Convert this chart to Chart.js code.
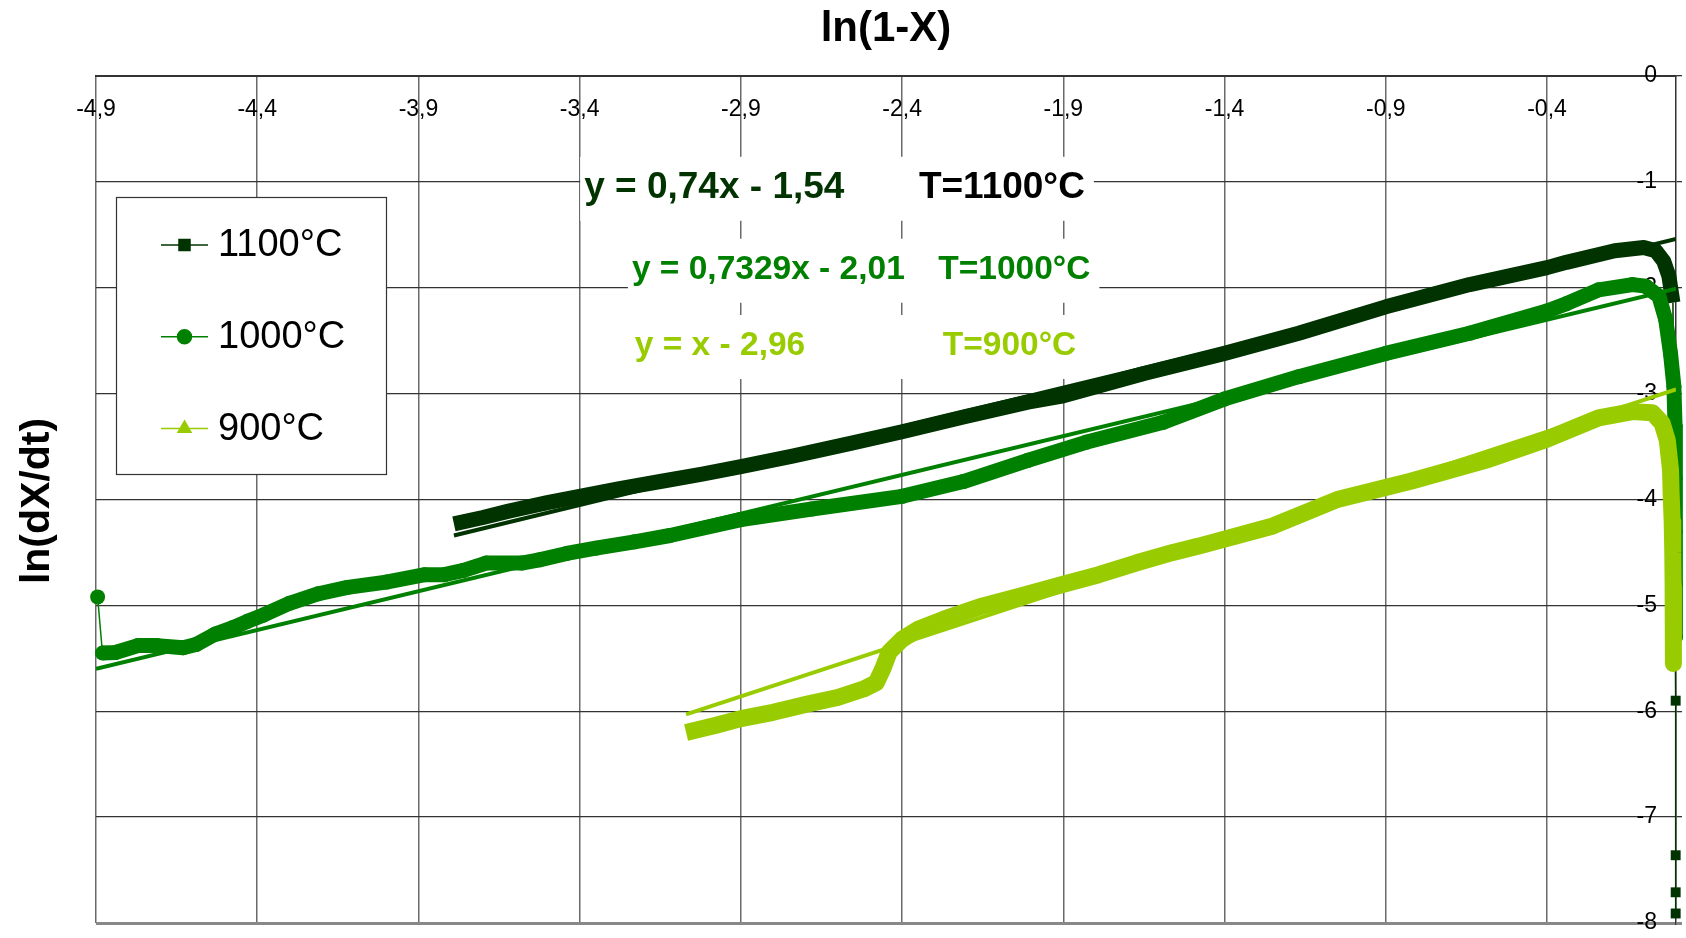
<!DOCTYPE html>
<html>
<head>
<meta charset="utf-8">
<script src="https://cdn.jsdelivr.net/npm/chart.js@4.4.0/dist/chart.umd.min.js"></script>
<style>
  html, body { margin: 0; padding: 0; background: #fff; }
  #wrap { width: 1686px; height: 938px; }
</style>
</head>
<body>
<div id="wrap"><canvas id="kinetics" width="1686" height="938"></canvas></div>
<script>
// ln(1-X) vs ln(dX/dt)
const xTicks = [-4.9, -4.4, -3.9, -3.4, -2.9, -2.4, -1.9, -1.4, -0.9, -0.4];

const x1100 = [-3.79, -3.70, -3.62, -3.50, -3.40, -3.28, -3.15, -3.02, -2.90, -2.74, -2.56, -2.40, -2.21, -2.01, -1.90, -1.65, -1.40, -1.17, -0.90, -0.64, -0.40, -0.34, -0.19, -0.10, -0.063, -0.038, -0.022, -0.014, -0.0095, -0.001, -0.001, -0.001, -0.001];
const y1100 = [-4.23, -4.17, -4.11, -4.03, -3.97, -3.90, -3.83, -3.76, -3.69, -3.59, -3.47, -3.36, -3.22, -3.08, -3.02, -2.81, -2.62, -2.43, -2.18, -1.97, -1.81, -1.76, -1.65, -1.62, -1.65, -1.75, -1.89, -2.05, -2.14, -5.90, -7.36, -7.71, -7.91];

const x1000 = [-4.895, -4.88, -4.84, -4.77, -4.71, -4.63, -4.59, -4.53, -4.475, -4.43, -4.38, -4.30, -4.21, -4.12, -4.00, -3.88, -3.82, -3.76, -3.69, -3.58, -3.525, -3.44, -3.35, -3.23, -3.12, -2.90, -2.68, -2.40, -2.21, -2.01, -1.83, -1.59, -1.40, -1.17, -0.90, -0.64, -0.40, -0.34, -0.24, -0.135, -0.094, -0.053, -0.032, -0.017, -0.0065, -0.003, -0.002, -0.002, -0.002, -0.002];
const y1000 = [-4.92, -5.45, -5.445, -5.38, -5.38, -5.40, -5.37, -5.27, -5.21, -5.15, -5.09, -4.98, -4.89, -4.83, -4.78, -4.71, -4.71, -4.67, -4.60, -4.60, -4.57, -4.51, -4.46, -4.40, -4.34, -4.19, -4.09, -3.97, -3.83, -3.63, -3.46, -3.27, -3.05, -2.84, -2.62, -2.43, -2.22, -2.15, -2.02, -1.97, -1.985, -2.08, -2.30, -2.62, -2.93, -3.30, -3.80, -4.30, -4.80, -5.30];

const x900 = [-3.07, -2.98, -2.90, -2.80, -2.69, -2.60, -2.52, -2.48, -2.46, -2.44, -2.40, -2.35, -2.27, -2.15, -2.03, -1.90, -1.79, -1.675, -1.56, -1.48, -1.25, -1.05, -0.82, -0.58, -0.40, -0.24, -0.135, -0.073, -0.043, -0.027, -0.017, -0.015, -0.012, -0.010, -0.009, -0.008, -0.008, -0.008];
const y900 = [-6.20, -6.135, -6.07, -6.01, -5.93, -5.87, -5.79, -5.73, -5.60, -5.44, -5.32, -5.225, -5.13, -5.005, -4.91, -4.80, -4.71, -4.60, -4.50, -4.44, -4.25, -4.00, -3.825, -3.62, -3.43, -3.23, -3.17, -3.18, -3.28, -3.44, -3.72, -3.95, -4.20, -4.50, -4.80, -5.10, -5.35, -5.55];

// linear fits (end points of the trend lines)
const trendX1100 = [-3.79, 0];
const trendY1100 = [-4.34, -1.54];
const trendX1000 = [-4.9, 0];
const trendY1000 = [-5.60, -2.01];
const trendX900 = [-3.07, 0];
const trendY900 = [-6.03, -2.96];

const FONT = "'Liberation Sans', Arial, sans-serif";
const C1100 = "#003300";
const C1000 = "#008000";
const C900 = "#99cc00";

// where each curve leaves its band and falls along the right axis
const DROP_1100 = 28;
const DROP_900 = 29;

const fitLabels = [
  { eq: "y = 0,74x - 1,54", t: "T=1100°C", eqX: -3.386, tX: -2.348, y: -1.056, size: 37, color: C1100, tColor: "#000" },
  { eq: "y = 0,7329x - 2,01", t: "T=1000°C", eqX: -3.238, tX: -2.288, y: -1.83, size: 33.5, color: C1000, tColor: C1000 },
  { eq: "y = x - 2,96", t: "T=900°C", eqX: -3.229, tX: -2.274, y: -2.55, size: 33.5, color: C900, tColor: C900 },
];

const legendItems = [
  { label: "1100°C", color: C1100, style: "rect", r: 7.8 },
  { label: "1000°C", color: C1000, style: "circle", r: 7 },
  { label: "900°C", color: C900, style: "triangle", r: 7.5 },
];

function pts(xs, ys) {
  return xs.map((x, i) => ({ x, y: ys[i] }));
}

function comma(v) {
  return String(v).replace(".", ",");
}

const overlay = {
  id: "overlay",
  beforeDatasetsDraw(chart) {
    const { ctx, scales: { x, y } } = chart;
    ctx.save();
    ctx.textBaseline = "middle";
    fitLabels.forEach((l) => {
      ctx.font = `bold ${l.size}px ${FONT}`;
      const left = x.getPixelForValue(l.eqX);
      const tLeft = x.getPixelForValue(l.tX);
      const cy = y.getPixelForValue(l.y);
      const right = tLeft + ctx.measureText(l.t).width;
      ctx.fillStyle = "#fff";
      ctx.fillRect(left - 4, cy - 31, right - left + 13, 64);
      ctx.fillStyle = l.color;
      ctx.fillText(l.eq, left, cy);
      ctx.fillStyle = l.tColor;
      ctx.fillText(l.t, tLeft, cy);
    });

    // legend box
    ctx.fillStyle = "#fff";
    ctx.fillRect(116, 197, 270, 278);
    ctx.strokeStyle = "#333";
    ctx.lineWidth = 1.2;
    ctx.strokeRect(116.5, 197.5, 270, 277);
    legendItems.forEach((item, i) => {
      const cy = 245 + i * 91.7;
      ctx.strokeStyle = item.color;
      ctx.lineWidth = 1.5;
      ctx.beginPath();
      ctx.moveTo(161, cy);
      ctx.lineTo(208, cy);
      ctx.stroke();
      ctx.fillStyle = item.color;
      Chart.helpers.drawPoint(ctx, { pointStyle: item.style, radius: item.r, rotation: 0, borderWidth: 1 }, 184.5, cy);
      ctx.fillStyle = "#000";
      ctx.font = `38px ${FONT}`;
      ctx.textAlign = "left";
      ctx.fillText(item.label, 218, cy + 1);
    });
    ctx.restore();
  },
  afterDraw(chart) {
    const { ctx, chartArea } = chart;
    ctx.save();
    ctx.fillStyle = "#000";
    ctx.font = `bold 42px ${FONT}`;
    ctx.textAlign = "center";
    ctx.textBaseline = "alphabetic";
    ctx.fillText("ln(1-X)", (chartArea.left + chartArea.right) / 2, 41);
    ctx.translate(49, 501);
    ctx.rotate(-Math.PI / 2);
    ctx.font = `bold 41px ${FONT}`;
    ctx.fillText("ln(dX/dt)", 0, 0);
    ctx.restore();
  },
};

const trendStyle = { showLine: true, pointRadius: 0, borderWidth: 4, fill: false, order: 0 };

new Chart(document.getElementById("kinetics"), {
  type: "scatter",
  data: {
    datasets: [
      { label: "trend 1100", data: pts(trendX1100, trendY1100), borderColor: C1100, ...trendStyle },
      { label: "trend 1000", data: pts(trendX1000, trendY1000), borderColor: C1000, ...trendStyle },
      { label: "trend 900", data: pts(trendX900, trendY900), borderColor: C900, ...trendStyle },
      {
        label: "900°C",
        data: pts(x900, y900),
        showLine: true,
        order: 1,
        borderColor: C900,
        backgroundColor: C900,
        borderWidth: 17,
        borderJoinStyle: "round",
        pointStyle: "triangle",
        pointRadius: (c) => (c.dataIndex >= DROP_900 ? 8 : 0),
        pointBorderWidth: 0,
        clip: false,
      },
      {
        label: "1000°C",
        data: pts(x1000, y1000),
        showLine: true,
        order: 2,
        borderColor: C1000,
        backgroundColor: C1000,
        borderWidth: 15,
        borderJoinStyle: "round",
        segment: { borderWidth: (c) => (c.p0DataIndex === 0 ? 1.5 : 15) },
        pointStyle: "circle",
        pointRadius: 7.5,
        pointBorderWidth: 0,
        clip: false,
      },
      {
        label: "1100°C",
        data: pts(x1100, y1100),
        showLine: true,
        order: 3,
        borderColor: C1100,
        backgroundColor: C1100,
        borderWidth: 15,
        borderJoinStyle: "round",
        segment: { borderWidth: (c) => (c.p0DataIndex >= DROP_1100 ? 1.5 : 15) },
        pointStyle: "rect",
        pointRadius: (c) => (c.dataIndex > DROP_1100 ? 7 : 0),
        pointBorderWidth: 0,
        clip: false,
      },
    ],
  },
  options: {
    responsive: false,
    animation: false,
    devicePixelRatio: 1,
    layout: { padding: { left: 96, right: 0, top: 0, bottom: 15 } },
    plugins: { legend: { display: false }, tooltip: { enabled: false } },
    scales: {
      x: {
        type: "linear",
        position: "top",
        min: -4.9,
        max: 0,
        afterBuildTicks: (s) => { s.ticks = xTicks.map((value) => ({ value })); },
        afterFit: (s) => { s.height = 76; s.paddingLeft = 0; s.paddingRight = 0; },
        ticks: { mirror: true, padding: 20, autoSkip: false, maxRotation: 0, color: "#000", font: { family: FONT, size: 23 }, callback: (v) => comma(v) },
        grid: { color: "#6a6a6a", lineWidth: 1.5, drawTicks: false },
        border: { color: "#333", width: 2 },
      },
      y: {
        type: "linear",
        position: "right",
        min: -8,
        max: 0,
        afterFit: (s) => { s.width = 10; s.paddingTop = 0; s.paddingBottom = 0; },
        ticks: { stepSize: 1, mirror: true, crossAlign: "near", padding: -19, color: "#000", font: { family: FONT, size: 23 }, callback: (v) => comma(v) },
        grid: {
          color: (c) => (c.tick && c.tick.value === -8 ? "#888" : "#333"),
          lineWidth: (c) => (c.tick && c.tick.value === -8 ? 3 : 1.3),
          tickLength: 6,
        },
        border: { color: "#333", width: 1.5 },
      },
    },
  },
  plugins: [overlay],
});
</script>
</body>
</html>
